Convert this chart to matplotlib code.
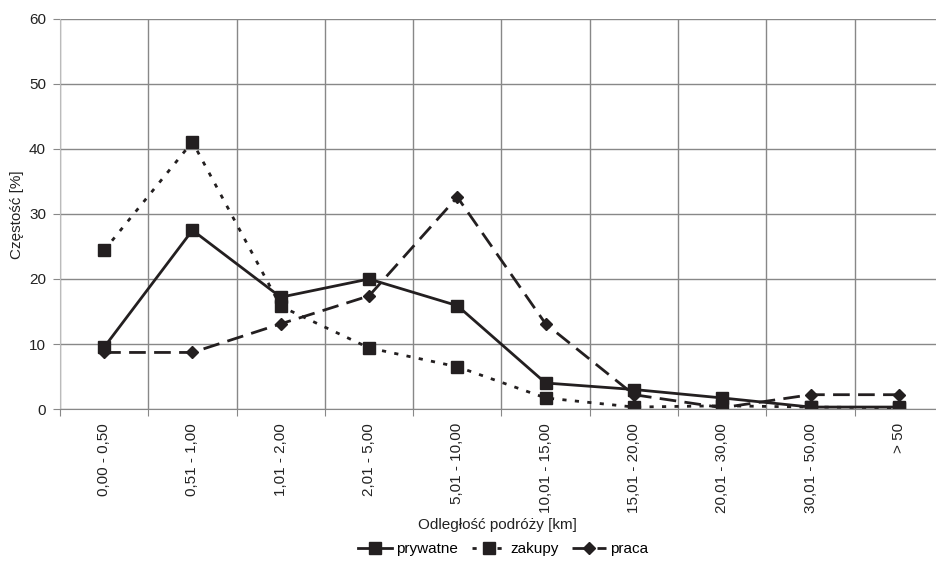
import matplotlib
matplotlib.use("Agg")
import numpy as np
import matplotlib.pyplot as plt
from matplotlib.ticker import FixedLocator, NullFormatter

plt.rcParams['font.family'] = ['Liberation Sans', 'DejaVu Sans']

categories = ["0,00 - 0,50", "0,51 - 1,00", "1,01 - 2,00", "2,01 - 5,00", "5,01 - 10,00",
              "10,01 - 15,00", "15,01 - 20,00", "20,01 - 30,00", "30,01 - 50,00", "> 50"]
prywatne = [9.5, 27.5, 17.2, 20.0, 15.9, 4.0, 3.0, 1.7, 0.3, 0.3]
zakupy = [24.4, 41.1, 15.8, 9.4, 6.5, 1.7, 0.3, 0.5, 0.3, 0.2]
praca = [8.7, 8.7, 13.1, 17.4, 32.6, 13.1, 2.2, 0.2, 2.2, 2.2]

ink = '#231f20'
fig = plt.figure(figsize=(9.37, 5.65), dpi=100)
ax = fig.add_axes([0.064, 0.2761, 0.9424, 0.6903])

x = np.arange(len(categories)) + 0.5
ax.plot(x, prywatne, color=ink, lw=2, marker='s', ms=9, label='prywatne')
ax.plot(x, zakupy, color=ink, lw=2, ls=(0, (1.5, 3)), marker='s', ms=9, label='zakupy')
ax.plot(x, praca, color=ink, lw=2, ls=(0, (6, 3)), marker='D', ms=6, label='praca')

ax.set_xlim(0, len(categories))
ax.set_ylim(0, 60)
ax.set_yticks(range(0, 61, 10))
ax.xaxis.set_major_locator(FixedLocator(range(len(categories) + 1)))
ax.xaxis.set_major_formatter(NullFormatter())
ax.xaxis.set_minor_locator(FixedLocator(x))
ax.set_xticklabels(categories, minor=True, rotation=90, va='top')
ax.tick_params(axis='x', which='minor', length=0, pad=10, labelsize=11, labelcolor='#222222')
ax.tick_params(axis='x', which='major', length=5, color='#888888')
ax.tick_params(axis='y', length=5, color='#888888', labelsize=11, pad=5, labelcolor='#222222')
ax.grid(True, color='#888888', lw=1)
ax.set_axisbelow(True)
for s in ['top', 'right']:
    ax.spines[s].set_visible(False)
ax.spines['left'].set_color('#bbbbbb')
ax.spines['bottom'].set_color('#888888')

fig.text(17 / 937, 1 - 215 / 565, 'Częstość [%]', rotation=90, ha='center', va='center',
         fontsize=11, color='#222222')
fig.text(497 / 937, 1 - 525 / 565, 'Odległość podróży [km]', ha='center', va='center',
         fontsize=11, color='#222222')
fig.legend(loc='center', bbox_to_anchor=(0.537, 0.028), ncol=3, frameon=False,
           fontsize=11, handlelength=2.2, handletextpad=0.3, columnspacing=0.9)

fig.savefig('out.png', dpi=100)
